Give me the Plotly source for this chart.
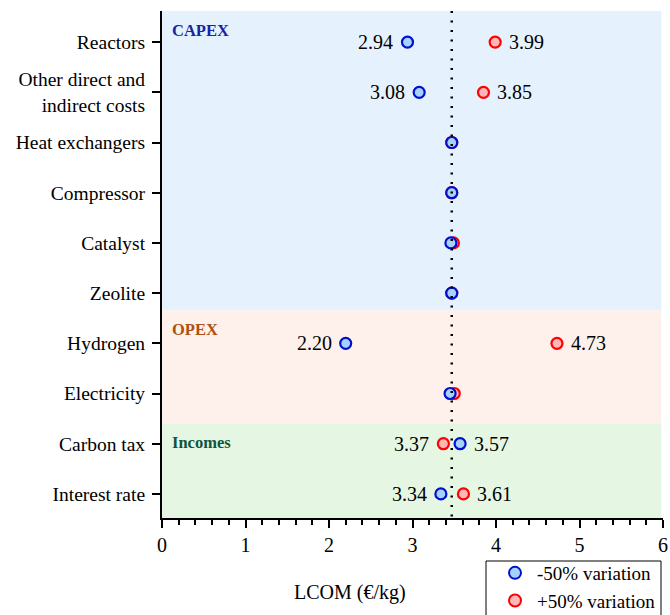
import plotly.graph_objects as go

categories = ["Reactors", "Other direct and<br>indirect costs", "Heat exchangers", "Compressor",
              "Catalyst", "Zeolite", "Hydrogen", "Electricity", "Carbon tax", "Interest rate"]
minus50 = [2.94, 3.08, 3.47, 3.47, 3.46, 3.47, 2.20, 3.45, 3.57, 3.34]
plus50 = [3.99, 3.85, 3.47, 3.47, 3.49, 3.47, 4.73, 3.50, 3.37, 3.61]
show_label = [True, True, False, False, False, False, True, False, True, True]
base_value = 3.47
groups = [("CAPEX", -0.62, 5.34, "#e5f2fe", "#1a22a8"),
          ("OPEX", 5.34, 7.59, "#fef0ea", "#b0500f"),
          ("Incomes", 7.59, 9.48, "#e5f7e2", "#0d5540")]
x_ticks = [0, 1, 2, 3, 4, 5, 6]

FONT = "Liberation Serif"
ypos = list(range(len(categories)))
PL, PR, PT, PB = 162, 663, 11, 518
W, H = PR - PL, PB - PT

def px(xp):
    return (xp - PL) / W

def py(yp):
    return (PB - yp) / H

fig = go.Figure()
for name, y0, y1, fill, col in groups:
    fig.add_shape(type="rect", xref="x", yref="y", x0=0, x1=5.98, y0=y0, y1=y1,
                  fillcolor=fill, line_width=0, layer="below")
    fig.add_annotation(x=0.1, y=y0 + 0.38, xref="x", yref="y", text=f"<b>{name}</b>",
                       showarrow=False, xanchor="left", yanchor="middle",
                       font=dict(family=FONT, size=16.5, color=col))

fig.add_shape(type="line", xref="x", yref="y", x0=base_value, x1=base_value, y0=-0.62, y1=9.48,
              line=dict(color="black", width=2.5, dash="2px,7.5px"))

fig.add_trace(go.Scatter(x=plus50, y=ypos, mode="markers", name="+50% variation", legendrank=2,
                         marker=dict(size=11, color="#ffb6b6", line=dict(color="#ff0000", width=2.2))))
fig.add_trace(go.Scatter(x=minus50, y=ypos, mode="markers", name="-50% variation", legendrank=1,
                         marker=dict(size=11, color="#a6d2ff", line=dict(color="#0010cc", width=2.2))))

for i, (a, b, s) in enumerate(zip(minus50, plus50, show_label)):
    if not s:
        continue
    for v, o in ((a, b), (b, a)):
        left = v < o
        fig.add_annotation(x=v, y=i, xref="x", yref="y", text=f"{v:.2f}", showarrow=False,
                           xanchor="right" if left else "left", yanchor="middle",
                           xshift=-12 if left else 12,
                           font=dict(family=FONT, size=20, color="black"))

fig.add_annotation(xref="paper", yref="paper", x=px(350), y=py(592),
                   text="LCOM (€/kg)", showarrow=False, yanchor="middle",
                   font=dict(family=FONT, size=20, color="black"))

# legend frame
fig.add_shape(type="rect", xref="paper", yref="paper", x0=px(486), x1=px(661), y0=py(561), y1=py(640),
              line=dict(color="black", width=1), fillcolor="white", layer="above")

fig.update_layout(
    width=670, height=615,
    margin=dict(l=PL, r=670 - PR, t=PT, b=615 - PB, autoexpand=False),
    paper_bgcolor="white", plot_bgcolor="white",
    font=dict(family=FONT, size=19, color="black"),
    showlegend=True,
    legend=dict(x=px(493), y=py(554), xanchor="left", yanchor="top",
                borderwidth=0, bgcolor="rgba(0,0,0,0)",
                font=dict(family=FONT, size=19), tracegroupgap=0, itemsizing="constant",
                itemwidth=34),
    xaxis=dict(range=[0, 6], tickvals=x_ticks, showgrid=False, zeroline=False,
               showline=True, linecolor="black", linewidth=2, ticks="outside", ticklen=8,
               tickwidth=2, tickcolor="black", tickfont=dict(family=FONT, size=20),
               minor=dict(dtick=0.2, ticks="outside", ticklen=5, tickwidth=1.5, tickcolor="black")),
    yaxis=dict(range=[9.48, -0.62], tickvals=ypos, ticktext=categories, showgrid=False,
               zeroline=False, showline=True, linecolor="black", linewidth=2,
               ticks="outside", ticklen=8, tickwidth=2, tickcolor="black",
               ticklabelstandoff=3, tickfont=dict(family=FONT, size=19.5)),
)

fig.write_html("out.html")
